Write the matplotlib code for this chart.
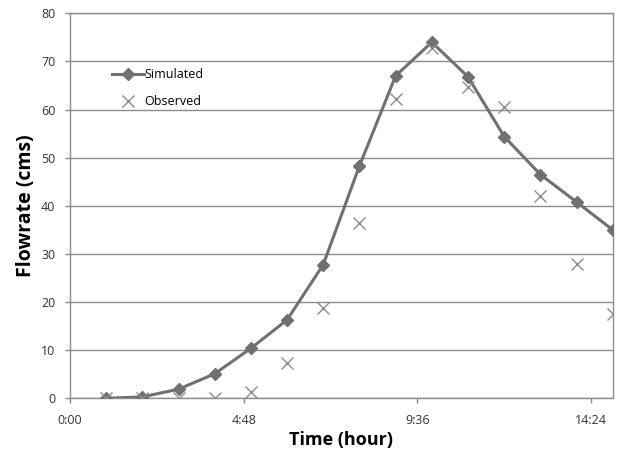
import matplotlib
matplotlib.use("Agg")
import matplotlib.pyplot as plt

hours = [1, 2, 3, 4, 5, 6, 7, 8, 9, 10, 11, 12, 13, 14, 15]
simulated = [0.0, 0.3, 1.9, 5.1, 10.4, 16.3, 27.8, 48.3, 67.0, 74.0, 66.8, 54.4, 46.5, 40.8, 35.0]
observed = [0.0, 0.0, 0.0, 0.0, 1.4, 7.3, 18.7, 36.4, 62.2, 72.8, 64.7, 60.6, 42.1, 27.9, 17.5]
xtick_pos = [0, 4.8, 9.6, 14.4]
xtick_labels = ["0:00", "4:48", "9:36", "14:24"]
yticks = [0, 10, 20, 30, 40, 50, 60, 70, 80]

plt.rcParams['font.family'] = ['Open Sans', 'DejaVu Sans']

fig = plt.figure(figsize=(6.23, 4.59), dpi=100)
ax = fig.add_axes([0.1124, 0.1322, 0.8711, 0.8388])

grid_c = '#8c8c8c'
ax.set_xlim(0, 15)
ax.set_ylim(0, 80)
ax.set_yticks(yticks)
ax.set_xticks(xtick_pos)
ax.set_xticklabels(xtick_labels)
ax.yaxis.grid(True, color=grid_c, linewidth=1.0)
ax.set_axisbelow(True)
for s in ax.spines.values():
    s.set_color(grid_c)
    s.set_linewidth(1.0)
ax.tick_params(axis='both', colors=grid_c, labelcolor='#333333', labelsize=9, length=3.5, width=1.0)
ax.tick_params(axis='x', pad=8)
ax.tick_params(axis='y', pad=7)

ax.plot(hours, simulated, color='#707070', linewidth=2.2, marker='D', markersize=6,
        label='Simulated', zorder=3)
ax.plot(hours, observed, linestyle='none', marker='x', color='#8c8c8c', markersize=9,
        markeredgewidth=1.0, label='Observed', zorder=4)

ax.set_xlabel('Time (hour)', fontsize=13, fontweight='bold', labelpad=3)
ax.set_ylabel('Flowrate (cms)', fontsize=14, fontweight='bold', labelpad=4)

leg = ax.legend(loc='upper left', bbox_to_anchor=(0.077, 0.857), frameon=False, fontsize=9,
                handlelength=2.6, handletextpad=0.0, labelspacing=1.1,
                borderaxespad=0.0, borderpad=0.0)

fig.savefig('out.png', dpi=100)
